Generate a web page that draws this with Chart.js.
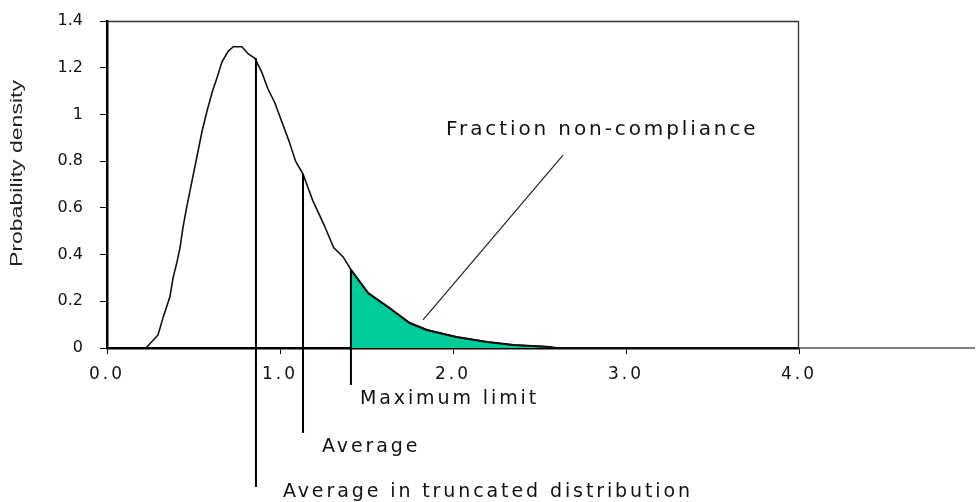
<!DOCTYPE html>
<html>
<head>
<meta charset="utf-8">
<script src="https://cdn.jsdelivr.net/npm/chart.js@4.4.1/dist/chart.umd.min.js"></script>
<style>
  html, body { margin: 0; background: #fff; }
</style>
</head>
<body>
<canvas id="chart" width="980" height="502"></canvas>
<script>
// ── data ──
const curveX = [0.225, 0.295, 0.324, 0.364, 0.382, 0.405, 0.422, 0.44, 0.46, 0.49, 0.52, 0.55, 0.58, 0.61, 0.635,
  0.665, 0.70, 0.73, 0.78, 0.815, 0.855, 0.895, 0.93, 0.97, 1.01, 1.05, 1.09, 1.133, 1.19, 1.25, 1.31, 1.365,
  1.41, 1.51, 1.635, 1.75, 1.85, 2.02, 2.2, 2.35, 2.54, 2.6, 4.0];
const curveY = [0, 0.056, 0.13, 0.22, 0.30, 0.37, 0.43, 0.52, 0.60, 0.71, 0.82, 0.93, 1.02, 1.10, 1.155,
  1.225, 1.27, 1.29, 1.29, 1.26, 1.24, 1.18, 1.11, 1.05, 0.97, 0.89, 0.80, 0.745, 0.63, 0.535, 0.43, 0.39,
  0.335, 0.235, 0.17, 0.107, 0.077, 0.047, 0.026, 0.013, 0.005, 0, 0];
const maxLimit = 1.41;

const markerLabels = ['Average in truncated distribution', 'Average', 'Maximum limit'];
const markerX = [0.861, 1.133, 1.41];
const markerTop = [1.241, 0.745, 0.335];
const markerBottom = [-0.595, -0.364, -0.158];

const noteText = 'Fraction non-compliance';
const pointerX = [2.636, 1.827];
const pointerY = [0.826, 0.12];

const xTickLabels = ['0.0', '1.0', '2.0', '3.0', '4.0'];
const yTickLabels = ['0', '0.2', '0.4', '0.6', '0.8', '1', '1.2', '1.4'];
const yTitle = 'Probability density';

// ── derived point lists ──
const curve = curveX.map((x, i) => ({ x, y: curveY[i] }));
const tail = curve.filter(p => p.x >= maxLimit && p.x <= 2.6);

const FONT = "'DejaVu Sans', sans-serif";

// text placement (data units: left edge, baseline)
const notes = [
  { text: markerLabels[0], x: 1.017, y: -0.638, size: 19 },
  { text: markerLabels[1], x: 1.243, y: -0.445, size: 19 },
  { text: markerLabels[2], x: 1.462, y: -0.24, size: 19 },
  { text: noteText, x: 1.96, y: 0.912, size: 20 },
];

const decor = {
  id: 'decor',
  // x tick labels sit on a later layer (ticks.z = 1), so they pick up this spacing
  afterDatasetsDraw(chart) {
    chart.ctx.letterSpacing = '3px';
  },
  afterDraw(chart) {
    const { ctx, chartArea: a, scales: { x, y } } = chart;
    ctx.save();
    ctx.letterSpacing = '0px';
    // top and right frame
    ctx.strokeStyle = '#333';
    ctx.lineWidth = 1.3;
    ctx.beginPath();
    ctx.moveTo(a.left, a.top + 0.5);
    ctx.lineTo(a.right - 0.5, a.top + 0.5);
    ctx.lineTo(a.right - 0.5, a.bottom);
    ctx.stroke();
    // axis line running on past the frame
    ctx.strokeStyle = '#555';
    ctx.lineWidth = 1.5;
    ctx.beginPath();
    ctx.moveTo(a.right, a.bottom);
    ctx.lineTo(975, a.bottom);
    ctx.stroke();

    // annotations
    ctx.fillStyle = '#111';
    ctx.textAlign = 'left';
    ctx.textBaseline = 'alphabetic';
    ctx.letterSpacing = '2.9px';
    notes.forEach(n => {
      ctx.font = `${n.size}px ${FONT}`;
      ctx.fillText(n.text, x.getPixelForValue(n.x), y.getPixelForValue(n.y));
    });

    // y title, stretched along its length
    ctx.letterSpacing = '0px';
    ctx.translate(22, (a.top + a.bottom) / 2 - 11);
    ctx.rotate(-Math.PI / 2);
    ctx.scale(1.44, 1);
    ctx.font = "16px 'Liberation Sans', Arial, sans-serif";
    ctx.textAlign = 'center';
    ctx.fillStyle = '#222';
    ctx.fillText(yTitle, 0, 0);
    ctx.restore();
    ctx.letterSpacing = '0px';
  }
};

const lineDs = (data, width, color, order) => ({
  data, borderColor: color, borderWidth: width, pointRadius: 0,
  fill: false, tension: 0, clip: false, order,
});

new Chart(document.getElementById('chart'), {
  type: 'line',
  data: {
    datasets: [
      {
        data: tail, borderColor: '#000', borderWidth: 2, backgroundColor: '#00CC99',
        fill: 'origin', pointRadius: 0, tension: 0, order: 5,
      },
      lineDs(curve, 1.6, '#111', 3),
      ...markerX.map((mx, i) => lineDs([{ x: mx, y: markerTop[i] }, { x: mx, y: markerBottom[i] }], 2, '#000', 1)),
      lineDs(pointerX.map((px, i) => ({ x: px, y: pointerY[i] })), 1.2, '#222', 2),
    ]
  },
  options: {
    responsive: false,
    animation: false,
    layout: { padding: { left: 0, top: 21, right: 181, bottom: 0 } },
    plugins: { legend: { display: false }, tooltip: { enabled: false } },
    scales: {
      x: {
        type: 'linear', min: 0, max: 4,
        ticks: {
          stepSize: 1, color: '#111', padding: 10, z: 1,
          font: { family: FONT, size: 17 },
          callback: v => xTickLabels[Math.round(v)],
        },
        grid: { drawOnChartArea: false, tickLength: 6, color: '#000' },
        border: { color: '#000', width: 2.5 },
        afterFit: s => { s.height = 154; },
      },
      y: {
        min: 0, max: 1.4,
        ticks: {
          stepSize: 0.2, color: '#111', padding: 17,
          font: { family: FONT, size: 16 },
          callback: v => yTickLabels[Math.round(v / 0.2)],
        },
        grid: { drawOnChartArea: false, tickLength: 7, color: '#000' },
        border: { color: '#000', width: 2.5 },
        afterFit: s => { s.width = 107; s.paddingTop = 10; s.paddingBottom = 10; },
      }
    }
  },
  plugins: [decor]
});
</script>
</body>
</html>
